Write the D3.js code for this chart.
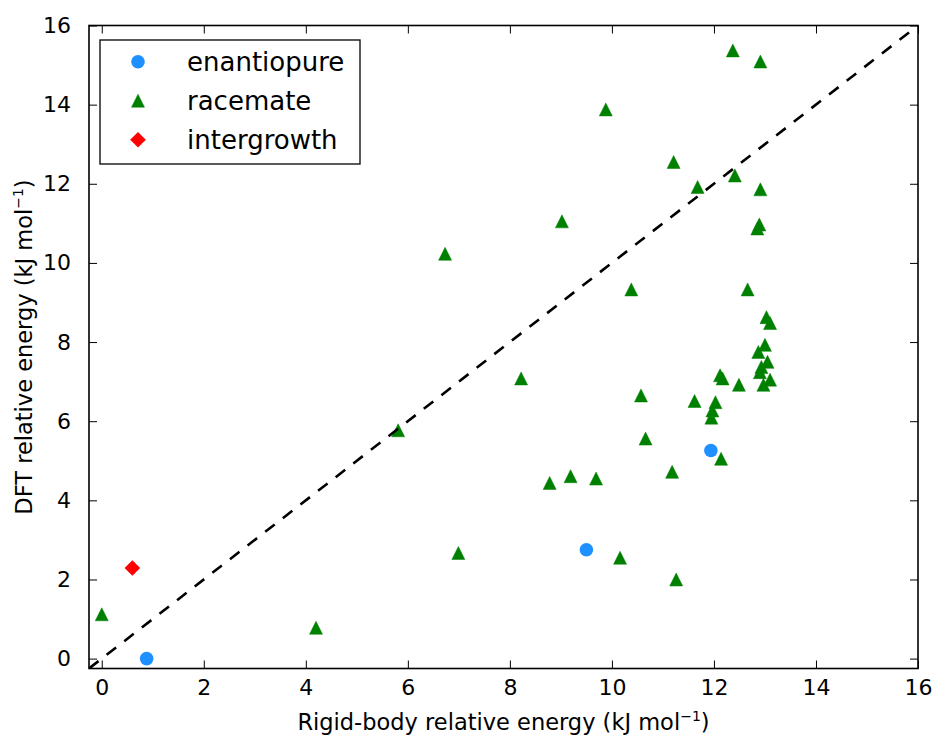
<!DOCTYPE html>
<html>
<head>
<meta charset="utf-8">
<script src="https://cdn.jsdelivr.net/npm/d3@7"></script>
<style>
  html, body { margin: 0; padding: 0; background: #fff; }
  svg { display: block; font-family: "DejaVu Sans", sans-serif; }
</style>
</head>
<body>
<svg id="chart" width="932" height="735"></svg>
<script>
// ---- data ----
const enantiopureX = [0.88, 9.50, 11.94];
const enantiopureY = [0.00, 2.75, 5.26];

const racemateX = [0.00, 4.20, 5.81, 6.73, 6.99, 8.22, 8.78, 9.02, 9.19, 9.69,
                   9.88, 10.16, 10.38, 10.57, 10.66, 11.18, 11.21, 11.26, 11.62, 11.68,
                   11.95, 11.97, 12.03, 12.12, 12.17, 12.14, 12.37, 12.41, 12.49, 12.66,
                   12.85, 12.89, 12.91, 12.91, 12.87, 13.00, 13.05, 12.93, 12.90, 13.10,
                   12.97, 13.03, 13.10];
const racemateY = [1.12, 0.78, 5.77, 10.23, 2.67, 7.08, 4.44, 11.05, 4.61, 4.55,
                   13.88, 2.55, 9.33, 6.65, 5.56, 4.72, 12.55, 2.00, 6.51, 11.92,
                   6.09, 6.27, 6.48, 7.16, 7.08, 5.05, 15.37, 12.21, 6.92, 9.33,
                   10.87, 10.97, 15.09, 11.86, 7.75, 7.93, 7.50, 7.37, 7.24, 7.05,
                   6.92, 8.63, 8.48];

const intergrowthX = [0.60];
const intergrowthY = [2.29];

const xTicks = [0, 2, 4, 6, 8, 10, 12, 14, 16];
const yTicks = [0, 2, 4, 6, 8, 10, 12, 14, 16];
const seriesNames = ["enantiopure", "racemate", "intergrowth"];

// ---- layout ----
const svg = d3.select("#chart");
const L = 89, R = 918, T = 25.5, B = 668.5;
const x = d3.scaleLinear().domain([-0.25, 16]).range([L, R]);
const y = d3.scaleLinear().domain([-0.25, 16]).range([B, T]);

const colors = { enantiopure: "#1E90FF", racemate: "#008000", intergrowth: "#FF0000" };

const tri = s => `M0,${-s/2}L${s/2},${s/2}L${-s/2},${s/2}Z`;
const dia = s => `M0,${-s}L${s},0L0,${s}L${-s},0Z`;

function drawMarker(g, type) {
  if (type === "enantiopure") {
    g.append("circle").attr("r", 6.8).attr("fill", colors.enantiopure);
  } else if (type === "racemate") {
    g.append("path").attr("d", tri(13)).attr("fill", colors.racemate)
      .attr("stroke", colors.racemate).attr("stroke-width", 0.5);
  } else {
    g.append("path").attr("d", dia(7.8)).attr("fill", colors.intergrowth);
  }
}

svg.append("clipPath").attr("id", "plotclip")
  .append("rect").attr("x", L).attr("y", T).attr("width", R - L).attr("height", B - T);

const plot = svg.append("g").attr("clip-path", "url(#plotclip)");

function scatter(xs, ys, type) {
  xs.forEach((xv, i) => {
    const g = plot.append("g").attr("transform", `translate(${x(xv)},${y(ys[i])})`);
    drawMarker(g, type);
  });
}
scatter(enantiopureX, enantiopureY, "enantiopure");
scatter(racemateX, racemateY, "racemate");
scatter(intergrowthX, intergrowthY, "intergrowth");

// y = x dashed line
plot.append("line")
  .attr("x1", x(-0.25)).attr("y1", y(-0.25))
  .attr("x2", x(16)).attr("y2", y(16))
  .attr("stroke", "#000").attr("stroke-width", 2.6)
  .attr("stroke-dasharray", "12,10.3");

// ---- axes (ticks inward on all four sides) ----
const tickLen = 8;
const fs = 22;
const axB = svg.append("g").attr("transform", `translate(0,${B})`)
  .call(d3.axisBottom(x).tickValues(xTicks).tickSize(-tickLen).tickPadding(tickLen + 3).tickFormat(d3.format("d")));
const axT = svg.append("g").attr("transform", `translate(0,${T})`)
  .call(d3.axisTop(x).tickValues(xTicks).tickSize(-tickLen).tickFormat(""));
const axL = svg.append("g").attr("transform", `translate(${L},0)`)
  .call(d3.axisLeft(y).tickValues(yTicks).tickSize(-tickLen).tickPadding(tickLen + 10).tickFormat(d3.format("d")));
const axR = svg.append("g").attr("transform", `translate(${R},0)`)
  .call(d3.axisRight(y).tickValues(yTicks).tickSize(-tickLen).tickFormat(""));

[axB, axT, axL, axR].forEach(a => {
  a.select(".domain").remove();
  a.selectAll(".tick line").attr("stroke", "#000").attr("stroke-width", 1);
  a.selectAll(".tick text").attr("font-size", fs).attr("fill", "#000")
    .attr("font-family", "DejaVu Sans, sans-serif");
});

// frame
svg.append("rect").attr("x", L).attr("y", T).attr("width", R - L).attr("height", B - T)
  .attr("fill", "none").attr("stroke", "#000").attr("stroke-width", 1.6);

// ---- axis labels ----
const xl = svg.append("text").attr("x", (L + R) / 2).attr("y", 730)
  .attr("text-anchor", "middle").attr("font-size", 22.5).attr("fill", "#000");
xl.append("tspan").text("Rigid-body relative energy (kJ mol");
xl.append("tspan").attr("font-size", 14).attr("dy", -9).text("\u22121");
xl.append("tspan").attr("dy", 9).text(")");

const yl = svg.append("text")
  .attr("transform", `translate(32,${(T + B) / 2}) rotate(-90)`)
  .attr("text-anchor", "middle").attr("font-size", 22.5).attr("fill", "#000");
yl.append("tspan").text("DFT relative energy (kJ mol");
yl.append("tspan").attr("font-size", 14).attr("dy", -9).text("\u22121");
yl.append("tspan").attr("dy", 9).text(")");

// ---- legend ----
const lg = svg.append("g");
lg.append("rect").attr("x", 100).attr("y", 40).attr("width", 260).attr("height", 124)
  .attr("fill", "#fff").attr("stroke", "#000").attr("stroke-width", 1.3);
seriesNames.forEach((name, i) => {
  const cy = 61.7 + i * 39;
  const g = lg.append("g").attr("transform", `translate(138,${cy})`);
  drawMarker(g, name);
  lg.append("text").attr("x", 187).attr("y", cy).attr("dy", "0.35em")
    .attr("font-size", 26).attr("fill", "#000").text(name);
});
</script>
</body>
</html>
